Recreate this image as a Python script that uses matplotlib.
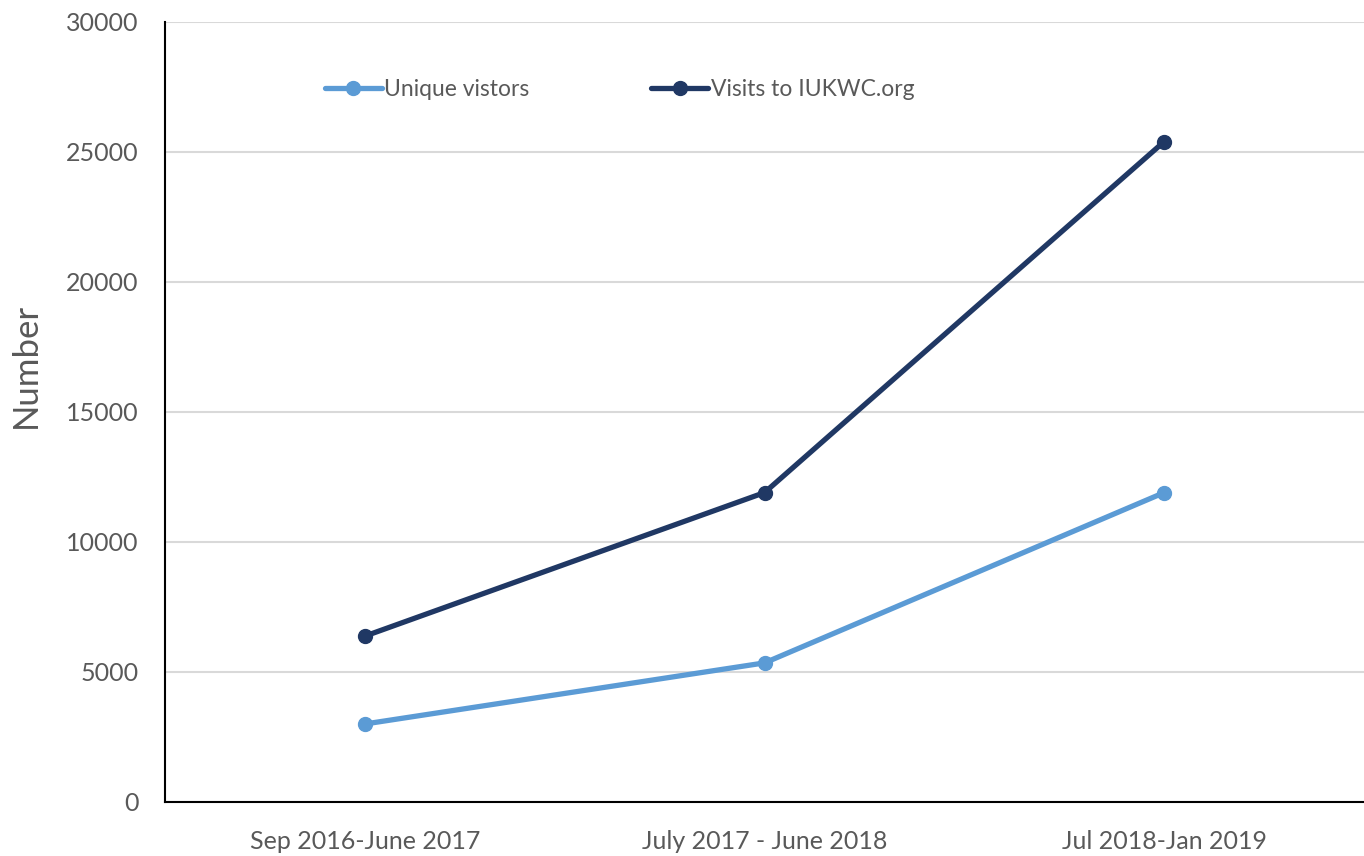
import matplotlib
matplotlib.use('Agg')
import matplotlib.pyplot as plt

# データ
periods = ['Sep 2016-June 2017', 'July 2017 - June 2018', 'Jul 2018-Jan 2019']
unique_visitors = [3000, 5350, 11900]
visits = [6380, 11900, 25400]

plt.rcParams['font.family'] = ['Lato', 'DejaVu Sans']

fig = plt.figure(figsize=(13.64, 8.56), dpi=100)
ax = fig.add_axes([0.121, 0.0631, 0.879, 0.9112])

x = range(len(periods))
ax.plot(x, unique_visitors, color='#5B9BD5', lw=3.8, marker='o', ms=10,
        solid_capstyle='round', label='Unique vistors')
ax.plot(x, visits, color='#203864', lw=3.8, marker='o', ms=10,
        solid_capstyle='round', label='Visits to IUKWC.org')

ax.set_xlim(-0.5, 2.5)
ax.set_ylim(0, 30000)
ax.set_yticks(range(0, 30001, 5000))
ax.set_xticks(list(x))
ax.set_xticklabels(periods)
ax.grid(axis='y', color='#D9D9D9', lw=1.5)
ax.set_axisbelow(True)

for s in ['top', 'right']:
    ax.spines[s].set_visible(False)
ax.spines['left'].set_color('black')
ax.spines['bottom'].set_color('black')
ax.spines['left'].set_linewidth(1.5)
ax.spines['bottom'].set_linewidth(1.5)

ax.tick_params(axis='both', length=0, labelsize=18, labelcolor='#595959')
ax.tick_params(axis='y', pad=19)
ax.tick_params(axis='x', pad=20)
ax.set_ylabel('Number', fontsize=25, color='#595959')
ax.yaxis.set_label_coords(-0.103, 0.56)

leg = ax.legend(loc='center left', bbox_to_anchor=(0.116, 0.913), ncol=2,
                frameon=False, fontsize=16.5, labelcolor='#595959',
                handlelength=2.5, handletextpad=0.1, columnspacing=5.3)

fig.savefig('out.png', dpi=100)
